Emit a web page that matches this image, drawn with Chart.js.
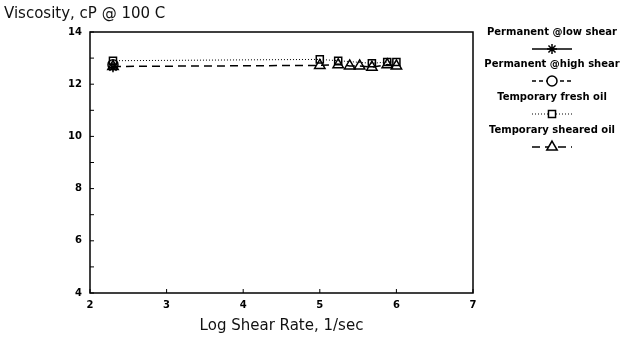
<!DOCTYPE html>
<html>
<head>
<meta charset="utf-8">
<script src="https://cdn.jsdelivr.net/npm/chart.js@4"></script>
<style>
    html, body { margin: 0; padding: 0; background: #fff; }
    #wrap { width: 629px; height: 337px; position: relative; }
</style>
</head>
<body>
<div id="wrap"><canvas id="viscChart" width="629" height="337"></canvas></div>
<script>
// Shear rate (log) and viscosity readings per oil
const lowShearX = [2.3];
const lowShearY = [12.65];
const highShearX = [2.3];
const highShearY = [12.75];
const freshX = [2.3, 5.0, 5.24, 5.68, 5.88, 6.0];
const freshY = [12.9, 12.95, 12.9, 12.8, 12.85, 12.85];
const shearedX = [2.3, 5.0, 5.24, 5.39, 5.52, 5.68, 5.88, 6.0];
const shearedY = [12.68, 12.72, 12.75, 12.7, 12.7, 12.65, 12.75, 12.7];

const seriesNames = ['Permanent @low shear', 'Permanent @high shear', 'Temporary fresh oil', 'Temporary sheared oil'];
const xTicks = [2, 3, 4, 5, 6, 7];
const yTicks = [4, 6, 8, 10, 12, 14];

function pts(xs, ys) {
    return xs.map((x, i) => ({ x: x, y: ys[i] }));
}

const lineStyles = [
    { dash: [], marker: 'star', radius: 5 },
    { dash: [4, 3], marker: 'circle', radius: 5 },
    { dash: [1, 2], marker: 'rect', radius: 5 },
    { dash: [8, 5], marker: 'triangle', radius: 6 }
];

const datasets = [
    pts(lowShearX, lowShearY),
    pts(highShearX, highShearY),
    pts(freshX, freshY),
    pts(shearedX, shearedY)
].map((data, i) => ({
    label: seriesNames[i],
    data: data,
    showLine: true,
    borderColor: '#000',
    borderWidth: i === 2 ? 1 : 1.5,
    borderDash: lineStyles[i].dash,
    pointStyle: lineStyles[i].marker,
    pointRadius: lineStyles[i].radius,
    pointBorderWidth: 1.5,
    pointBorderColor: '#000',
    pointBackgroundColor: 'rgba(255,255,255,0)'
}));

// Frame, inward tick marks, axis captions and the side legend
const framePlugin = {
    id: 'frame',
    afterDraw(chart) {
        const ctx = chart.ctx;
        const a = chart.chartArea;
        const xs = chart.scales.x, ys = chart.scales.y;
        ctx.save();
        ctx.strokeStyle = '#000';
        ctx.lineWidth = 1.5;
        ctx.setLineDash([]);
        ctx.strokeRect(a.left, a.top, a.right - a.left, a.bottom - a.top);

        ctx.lineWidth = 1;
        for (let v = 4; v <= 14; v++) {
            const py = ys.getPixelForValue(v);
            ctx.beginPath();
            ctx.moveTo(a.left, py);
            ctx.lineTo(a.left + 4, py);
            ctx.stroke();
        }
        xTicks.forEach(v => {
            const px = xs.getPixelForValue(v);
            ctx.beginPath();
            ctx.moveTo(px, a.bottom);
            ctx.lineTo(px, a.bottom - 4);
            ctx.stroke();
        });

        ctx.fillStyle = '#111';
        ctx.font = '15px "DejaVu Sans"';
        ctx.textAlign = 'left';
        ctx.textBaseline = 'alphabetic';
        ctx.fillText('Viscosity, cP @ 100 C', 4, 18);

        ctx.textAlign = 'center';
        ctx.fillText('Log Shear Rate, 1/sec', (a.left + a.right) / 2, 330);

        // legend: caption with a sample line and marker under it
        const cx = 552;
        const rows = [35, 67, 100, 133];
        rows.forEach((ty, i) => {
            const ds = chart.data.datasets[i];
            ctx.font = 'bold 10px "DejaVu Sans"';
            ctx.textAlign = 'center';
            ctx.fillStyle = '#000';
            ctx.fillText(seriesNames[i], cx, ty);
            const sy = ty + 14;
            ctx.beginPath();
            ctx.setLineDash(ds.borderDash);
            ctx.lineWidth = ds.borderWidth;
            ctx.moveTo(cx - 20, sy);
            ctx.lineTo(cx + 20, sy);
            ctx.stroke();
            ctx.setLineDash([]);
            ctx.lineWidth = 1.5;
            ctx.fillStyle = '#fff';
            Chart.helpers.drawPoint(ctx, {
                pointStyle: ds.pointStyle,
                radius: ds.pointRadius,
                borderWidth: 1.5
            }, cx, sy);
        });
        ctx.restore();
    }
};

const ctx = document.getElementById('viscChart').getContext('2d');
const viscChart = new Chart(ctx, {
    type: 'scatter',
    data: { datasets: datasets },
    options: {
        responsive: false,
        animation: false,
        layout: { padding: { top: 32, right: 156, left: 0, bottom: 0 } },
        plugins: {
            legend: { display: false },
            tooltip: { enabled: false }
        },
        scales: {
            x: {
                type: 'linear',
                min: 2,
                max: 7,
                afterFit: s => { s.height = 44; },
                afterBuildTicks: s => { s.ticks = xTicks.map(v => ({ value: v })); },
                grid: { display: false, drawTicks: false },
                border: { display: false },
                ticks: {
                    color: '#000',
                    padding: 6,
                    font: { family: 'DejaVu Sans', size: 10, weight: 'bold' }
                }
            },
            y: {
                type: 'linear',
                min: 4,
                max: 14,
                afterFit: s => { s.width = 90; },
                afterBuildTicks: s => { s.ticks = yTicks.map(v => ({ value: v })); },
                grid: { display: false, drawTicks: false },
                border: { display: false },
                ticks: {
                    color: '#000',
                    padding: 8,
                    font: { family: 'DejaVu Sans', size: 10, weight: 'bold' }
                }
            }
        }
    },
    plugins: [framePlugin]
});
</script>
</body>
</html>
